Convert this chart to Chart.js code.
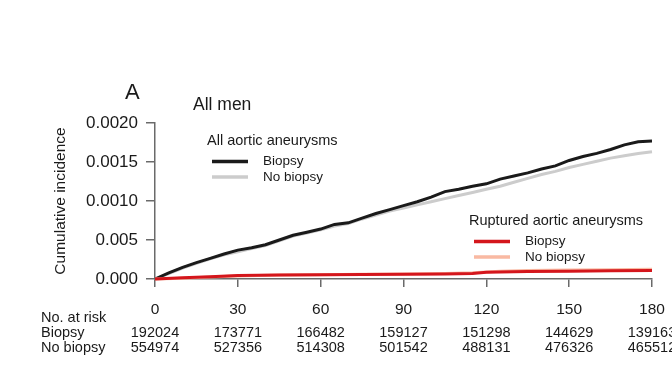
<!DOCTYPE html>
<html>
<head>
<meta charset="utf-8">
<script src="https://cdn.jsdelivr.net/npm/chart.js@4/dist/chart.umd.min.js"></script>
<style>
  html, body { margin: 0; padding: 0; background: #fff; }
  canvas { display: block; }
</style>
</head>
<body>
<canvas id="myChart" width="672" height="372"></canvas>
<script>
  // days since start
  const days = [0, 5, 10, 15, 20, 25, 30, 35, 40, 45, 50, 55, 60, 65, 70, 75, 80, 85, 90,
                95, 100, 105, 110, 115, 120, 125, 130, 135, 140, 145, 150, 155, 160, 165, 170, 175, 180];
  const allBiopsy = [0, 0.00008, 0.00015, 0.00021, 0.000265, 0.00032, 0.00037, 0.0004, 0.00044, 0.0005,
                     0.00056, 0.0006, 0.00064, 0.0007, 0.00072, 0.00078, 0.00084, 0.00089, 0.00094,
                     0.00099, 0.00105, 0.00112, 0.00115, 0.00119, 0.00122, 0.00128, 0.00132, 0.00136,
                     0.00141, 0.00145, 0.00152, 0.00157, 0.00161, 0.00166, 0.00172, 0.00176, 0.00177];
  const allNoBiopsy = [0, 0.00007, 0.00014, 0.0002, 0.00026, 0.00031, 0.00035, 0.00039, 0.00043, 0.00049,
                       0.00055, 0.00059, 0.00063, 0.00068, 0.00071, 0.00077, 0.00082, 0.00087, 0.00091,
                       0.00095, 0.00099, 0.00103, 0.00107, 0.00111, 0.00115, 0.00119, 0.00124, 0.00129,
                       0.00134, 0.00138, 0.00143, 0.00147, 0.00151, 0.00155, 0.00158, 0.00161, 0.00163];

  const rupDays = [0, 10, 20, 30, 45, 60, 75, 90, 105, 115, 120, 125, 135, 150, 165, 180];
  const rupBiopsy = [0, 0.000015, 0.00003, 0.000045, 0.00005, 0.000055, 0.000058, 0.00006, 0.000065,
                     0.00007, 0.000085, 0.00009, 0.000095, 0.0001, 0.000105, 0.00011];
  const rupNoBiopsy = [0, 0.00001, 0.000025, 0.00004, 0.00005, 0.000055, 0.00006, 0.000065, 0.00007,
                       0.00008, 0.00009, 0.0001, 0.00011, 0.000115, 0.00012, 0.000125];

  const xTicks = [0, 30, 60, 90, 120, 150, 180];
  const yTicks = [0, 0.0005, 0.001, 0.0015, 0.002];
  const yTickLabels = ['0.000', '0.005', '0.0010', '0.0015', '0.0020'];

  const atRiskBiopsy = [192024, 173771, 166482, 159127, 151298, 144629, 139163];
  const atRiskNoBiopsy = [554974, 527356, 514308, 501542, 488131, 476326, 465512];

  const FONT = '"Liberation Sans", Arial, Helvetica, sans-serif';
  const TEXT = '#1a1a1a';
  const AXIS = '#6a6a6a';

  function pts(xs, ys) {
      return xs.map((d, i) => ({ x: d, y: ys[i] }));
  }

  const extras = {
      id: 'extras',
      afterDraw(chart) {
          const ctx = chart.ctx;
          const xs = chart.scales.x;
          ctx.save();
          ctx.fillStyle = TEXT;
          ctx.textBaseline = 'middle';

          // panel letter and title
          ctx.textAlign = 'left';
          ctx.font = '22px ' + FONT;
          ctx.fillText('A', 125, 93);
          ctx.font = '17.5px ' + FONT;
          ctx.fillText('All men', 193, 105);

          // legends
          function legend(x, y, title, items) {
              ctx.font = '14.5px ' + FONT;
              ctx.fillStyle = TEXT;
              ctx.fillText(title, x, y);
              items.forEach((it, i) => {
                  const ly = y + 21 + i * 15.5;
                  ctx.strokeStyle = it.color;
                  ctx.lineWidth = 3.5;
                  ctx.beginPath();
                  ctx.moveTo(x + 5, ly);
                  ctx.lineTo(x + 41, ly);
                  ctx.stroke();
                  ctx.font = '13.5px ' + FONT;
                  ctx.fillText(it.label, x + 56, ly);
              });
          }
          legend(207, 140.5, 'All aortic aneurysms',
                 [{ label: 'Biopsy', color: '#1a1a1a' }, { label: 'No biopsy', color: '#cccccc' }]);
          legend(469, 220.5, 'Ruptured aortic aneurysms',
                 [{ label: 'Biopsy', color: '#d4161c' }, { label: 'No biopsy', color: '#f9b9a2' }]);

          // number at risk table
          ctx.font = '14.5px ' + FONT;
          ctx.fillStyle = TEXT;
          ctx.textAlign = 'left';
          ctx.fillText('No. at risk', 41, 318);
          ctx.fillText('Biopsy', 41, 333);
          ctx.fillText('No biopsy', 41, 348);
          ctx.textAlign = 'center';
          xTicks.forEach((d, i) => {
              const px = xs.getPixelForValue(d);
              ctx.fillText(String(atRiskBiopsy[i]), px, 333);
              ctx.fillText(String(atRiskNoBiopsy[i]), px, 348);
          });
          ctx.restore();
      }
  };

  new Chart("myChart", {
      type: "line",
      data: {
          datasets: [
              { data: pts(rupDays, rupBiopsy), borderColor: '#d4161c', borderWidth: 3 },
              { data: pts(rupDays, rupNoBiopsy), borderColor: '#f9b9a2', borderWidth: 3 },
              { data: pts(days, allBiopsy), borderColor: '#1a1a1a', borderWidth: 3 },
              { data: pts(days, allNoBiopsy), borderColor: '#cccccc', borderWidth: 3 }
          ]
      },
      options: {
          responsive: false,
          animation: false,
          clip: false,
          elements: {
              point: { radius: 0 },
              line: { tension: 0, fill: false }
          },
          layout: {
              padding: { top: 123, right: 20, bottom: 53, left: 0 }
          },
          plugins: {
              legend: { display: false },
              tooltip: { enabled: false }
          },
          scales: {
              x: {
                  type: 'linear',
                  min: 0,
                  max: 180,
                  afterBuildTicks: (s) => { s.ticks = xTicks.map(v => ({ value: v })); },
                  afterFit: (s) => {
                      s.height = 40;
                      s.paddingLeft = 0;
                      s.paddingRight = 0;
                  },
                  grid: {
                      drawOnChartArea: false,
                      drawTicks: true,
                      tickLength: 8,
                      color: AXIS,
                      lineWidth: 1.5
                  },
                  border: { color: AXIS, width: 1.5 },
                  ticks: {
                      padding: 13,
                      color: TEXT,
                      maxRotation: 0,
                      autoSkip: false,
                      font: { family: FONT, size: 15.5 }
                  }
              },
              y: {
                  min: 0,
                  max: 0.002,
                  afterBuildTicks: (s) => { s.ticks = yTicks.map(v => ({ value: v })); },
                  afterFit: (s) => { s.width = 155; },
                  grid: {
                      drawOnChartArea: false,
                      drawTicks: true,
                      tickLength: 9,
                      color: AXIS,
                      lineWidth: 1.5
                  },
                  border: { color: AXIS, width: 1.5 },
                  ticks: {
                      padding: 8,
                      color: TEXT,
                      autoSkip: false,
                      font: { family: FONT, size: 17 },
                      callback: (v, i) => yTickLabels[i]
                  },
                  title: {
                      display: true,
                      text: 'Cumulative incidence',
                      color: TEXT,
                      padding: { top: 51, bottom: 0 },
                      font: { family: FONT, size: 15.5 }
                  }
              }
          }
      },
      plugins: [extras]
  });
</script>
</body>
</html>
